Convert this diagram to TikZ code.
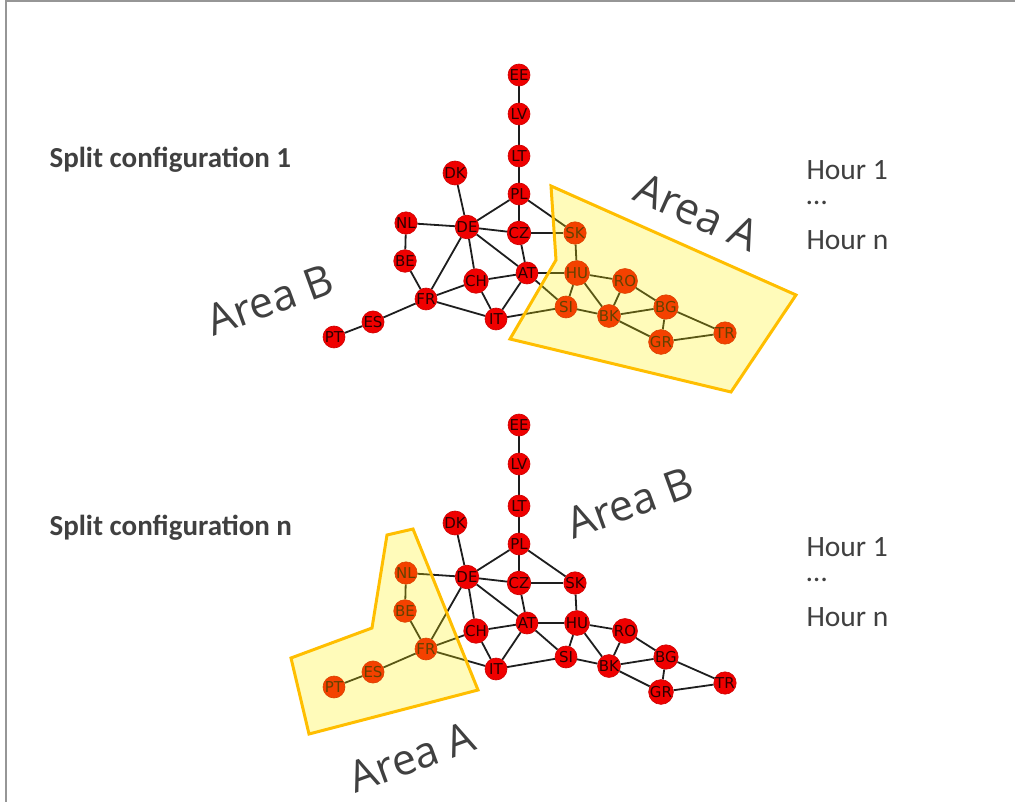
\documentclass[tikz,border=0pt]{standalone}
\usepackage{fontspec}
\setmainfont{Carlito}
\newfontfamily\nodefont{DejaVu Sans}
\newfontfamily\areafont{Open Sans}
\usetikzlibrary{backgrounds}
\definecolor{txtgray}{RGB}{64,64,64}
\definecolor{nodered}{RGB}{240,0,0}
\definecolor{areaborder}{RGB}{255,190,0}
\definecolor{labeldark}{RGB}{45,0,0}
\tikzset{
  cnode/.style={circle, fill=nodered, draw=nodered!85!black, line width=0.6pt, minimum size=22pt, inner sep=0pt,
    font=\nodefont\fontsize{15}{16}\selectfont, text=labeldark},
  edge/.style={draw={rgb,255:red,30;green,30;blue,30}, line width=1.8pt},
  area/.style={draw=areaborder, line width=3pt, fill=yellow, fill opacity=0.27, line join=miter},
  arealabel/.style={font=\areafont\fontsize{43}{45}\selectfont, text=txtgray},
  splitlabel/.style={font=\bfseries\fontsize{29}{32}\selectfont, text=txtgray, anchor=west},
  hourlabel/.style={font=\fontsize{29.5}{32}\selectfont, text=txtgray, anchor=west},
  frameline/.style={draw={rgb,255:red,150;green,150;blue,150}, line width=2pt}
}
\newcommand\mygraph[2]{%
  \foreach \n/\x/\y in {EE/519/75, LV/519/114, LT/519/156, DK/455/173, PL/519/194,
      NL/406/223, DE/467/227, CZ/519/233, SK/575/233, BE/405/261, CH/476/281,
      AT/527/273, HU/577/273, RO/625/281, FR/426/299, SI/566/307, BK/609/316,
      BG/666/307, IT/496/319, ES/373/322, PT/334/337, GR/661/342, TR/725/333}
    {\node[cnode] (#1\n) at (\x,\y+#2) {\n};}
  \begin{scope}[on background layer]
  \foreach \a/\b in {EE/LV, LV/LT, LT/PL, PL/DE, PL/CZ, PL/SK, DK/DE, NL/DE, NL/BE,
      DE/CZ, DE/AT, DE/CH, DE/FR, CZ/SK, CZ/AT, SK/HU, BE/FR, CH/FR, CH/AT, CH/IT,
      AT/IT, AT/HU, AT/SI, HU/SI, HU/RO, HU/BK, FR/IT, FR/ES, ES/PT, IT/SI, SI/BK,
      RO/BK, RO/BG, BK/BG, BK/GR, BG/GR, BG/TR, GR/TR}
    {\draw[edge] (#1\a) -- (#1\b);}
  \end{scope}
}
\begin{document}
\begin{tikzpicture}[x=1pt,y=-1pt]
\useasboundingbox (0,0) rectangle (1015,802);
\draw[frameline] (5.5,802) -- (5.5,1.5) -- (1015,1.5);

% top configuration
\mygraph{t}{0}
\draw[area] (551,186) -- (556,260) -- (510,339) -- (731,392) -- (796,295) -- cycle;
\node[splitlabel] (split1) at (46,160) {Split configuration 1};
\node[hourlabel] (t1) at (803,170) {Hour 1};
\node[hourlabel] (tdots) at (803,203) {\ldots};
\node[hourlabel] (tn) at (803,240) {Hour n};
\node[arealabel, rotate=-24] (tA) at (697,212) {Area A};
\node[arealabel, rotate=20] (tB) at (270,300) {Area B};

% bottom configuration
\mygraph{b}{350}
\draw[area] (387,535) -- (413,529) -- (478,690) -- (309,734) -- (291,658) -- (372,628) -- cycle;
\node[splitlabel] (splitn) at (46,528) {Split configuration n};
\node[hourlabel] (b1) at (803,547) {Hour 1};
\node[hourlabel] (bdots) at (803,580) {\ldots};
\node[hourlabel] (bn) at (803,617) {Hour n};
\node[arealabel, rotate=20] (bB) at (630,503) {Area B};
\node[arealabel, rotate=20] (bA) at (412,757) {Area A};
\end{tikzpicture}
\end{document}
